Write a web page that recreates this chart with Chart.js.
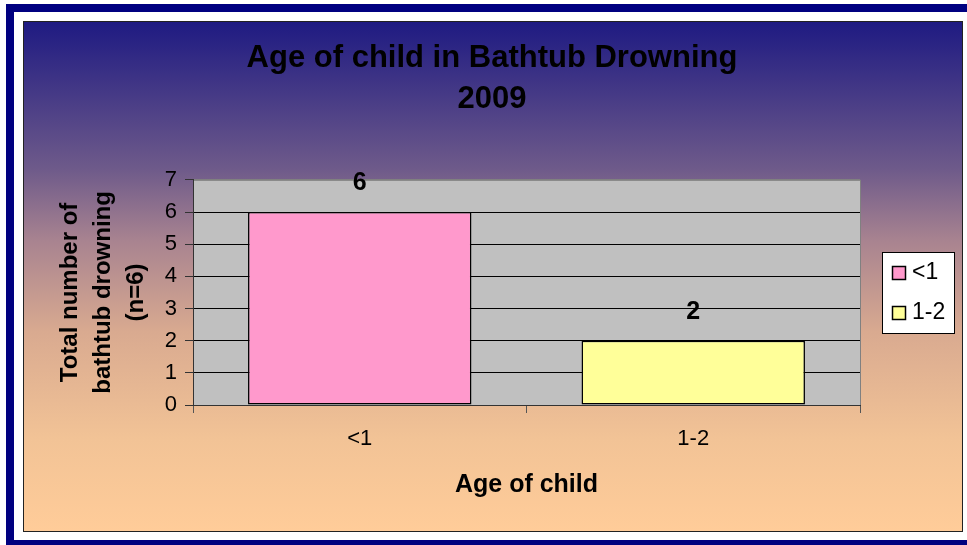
<!DOCTYPE html>
<html>
<head>
<meta charset="utf-8">
<title>Age of child in Bathtub Drowning 2009</title>
<script src="https://cdn.jsdelivr.net/npm/chart.js@4.4.1/dist/chart.umd.min.js"></script>
<style>
    body { margin: 0; background: #fff; }
    canvas { display: block; }
</style>
</head>
<body>
<canvas id="drowning" width="967" height="545"></canvas>
<script>
// data
var ageGroups = ['<1', '1-2']
var drownings = [6, 2]
var barColors = ['#FF99CC', '#FFFF99']
var titleLines = ['Age of child in Bathtub Drowning', '2009']
var yTitleLines = ['Total number of', 'bathtub drowning', '(n=6)']
var xTitle = 'Age of child'
var yMax = 7

var FONT = '"Liberation Sans", Arial, sans-serif'

// frame, gradient and grey plot area
var backdrop = {
    id: 'backdrop',
    beforeDraw: function(chart) {
        var ctx = chart.ctx
        var a = chart.chartArea
        ctx.save()
        ctx.fillStyle = '#fff'
        ctx.fillRect(0, 0, chart.width, chart.height)
        // navy outer frame
        ctx.strokeStyle = '#000080'
        ctx.lineWidth = 8
        ctx.strokeRect(10, 8, 961, 536)
        // gradient panel
        var g = ctx.createLinearGradient(0, 21, 0, 531)
        g.addColorStop(0, '#1E1A82')
        g.addColorStop(0.29, '#6E5A8A')
        g.addColorStop(0.43, '#A88390')
        g.addColorStop(0.61, '#D9AA90')
        g.addColorStop(0.82, '#F2C396')
        g.addColorStop(1, '#FFCC99')
        ctx.fillStyle = g
        ctx.fillRect(23, 21, 939, 510)
        ctx.strokeStyle = '#222'
        ctx.lineWidth = 1
        ctx.strokeRect(23.5, 21.5, 939, 510)
        // plot area
        ctx.fillStyle = '#C0C0C0'
        ctx.fillRect(a.left, a.top, a.right - a.left, a.bottom - a.top)
        ctx.strokeStyle = '#808080'
        ctx.strokeRect(a.left + 0.5, a.top + 0.5, a.right - a.left, a.bottom - a.top)
        ctx.restore()
    }
}

// value labels over bars and the boxed legend on the right
var extras = {
    id: 'extras',
    afterDatasetsDraw: function(chart) {
        var ctx = chart.ctx
        var meta = chart.getDatasetMeta(0)
        ctx.save()
        ctx.fillStyle = '#000'
        ctx.font = 'bold 25px ' + FONT
        ctx.textAlign = 'center'
        ctx.textBaseline = 'alphabetic'
        meta.data.forEach(function(bar, i) {
            ctx.fillText(drownings[i], bar.x, bar.y - 22)
        })

        var a = chart.chartArea
        var boxL = a.right + 22, boxW = 72, boxH = 81
        var boxT = Math.round((a.top + a.bottom) / 2 - boxH / 2)
        ctx.fillStyle = '#fff'
        ctx.fillRect(boxL, boxT, boxW, boxH)
        ctx.strokeStyle = '#000'
        ctx.lineWidth = 1
        ctx.strokeRect(boxL + 0.5, boxT + 0.5, boxW, boxH)
        ctx.font = '23px ' + FONT
        ctx.textAlign = 'left'
        ctx.textBaseline = 'middle'
        ageGroups.forEach(function(lbl, i) {
            var cy = boxT + 21 + i * 40
            ctx.fillStyle = barColors[i]
            ctx.fillRect(boxL + 10, cy - 7, 14, 14)
            ctx.strokeStyle = '#000'
            ctx.lineWidth = 1.5
            ctx.strokeRect(boxL + 10.5, cy - 6.5, 13, 13)
            ctx.fillStyle = '#000'
            ctx.fillText(lbl, boxL + 30, cy)
        })
        ctx.restore()
    }
}

var ctx = document.getElementById('drowning').getContext('2d')
var myBarChart = new Chart(ctx, {
    type: 'bar',
    data: {
        labels: ageGroups,
        datasets: [{
            data: drownings,
            backgroundColor: barColors,
            borderColor: '#000',
            borderWidth: 1.5,
            borderSkipped: false,
            barPercentage: 0.67,
            categoryPercentage: 1
        }]
    },
    options: {
        responsive: false,
        animation: false,
        devicePixelRatio: 1,
        layout: { padding: { left: 30, right: 13, top: 0, bottom: 0 } },
        plugins: {
            legend: { display: false },
            tooltip: { enabled: false },
            title: {
                display: true,
                text: titleLines,
                color: '#000',
                font: { family: FONT, size: 31, weight: 'bold', lineHeight: 1.32 },
                padding: { top: 38, bottom: 60 }
            }
        },
        scales: {
            x: {
                grid: { display: true, drawOnChartArea: false, tickLength: 8, color: '#555' },
                border: { color: '#333', width: 1 },
                ticks: { color: '#000', padding: 13, font: { family: FONT, size: 22 } },
                title: {
                    display: true,
                    text: xTitle,
                    color: '#000',
                    font: { family: FONT, size: 25, weight: 'bold', lineHeight: 1.2 },
                    padding: { top: 0, bottom: 45 }
                },
                afterFit: function(scale) { scale.height = 140 }
            },
            y: {
                min: 0,
                max: yMax,
                ticks: { stepSize: 1, color: '#000', padding: 8, font: { family: FONT, size: 22 } },
                grid: {
                    tickLength: 8,
                    color: function(c) { return c.tick && c.tick.value === yMax ? '#808080' : '#000' },
                    tickColor: '#333'
                },
                border: { color: '#333', width: 1 },
                title: {
                    display: true,
                    text: yTitleLines,
                    color: '#000',
                    font: { family: FONT, size: 24, weight: 'bold', lineHeight: 1.375 },
                    padding: { top: 24, bottom: 0 }
                },
                afterFit: function(scale) { scale.width = 163 }
            },
            // keeps room on the right for the legend box
            legendRoom: {
                type: 'linear',
                position: 'right',
                display: true,
                grid: { display: false },
                border: { display: false },
                ticks: { display: false },
                afterFit: function(scale) { scale.width = 94 }
            }
        }
    },
    plugins: [backdrop, extras]
})
</script>
</body>
</html>
